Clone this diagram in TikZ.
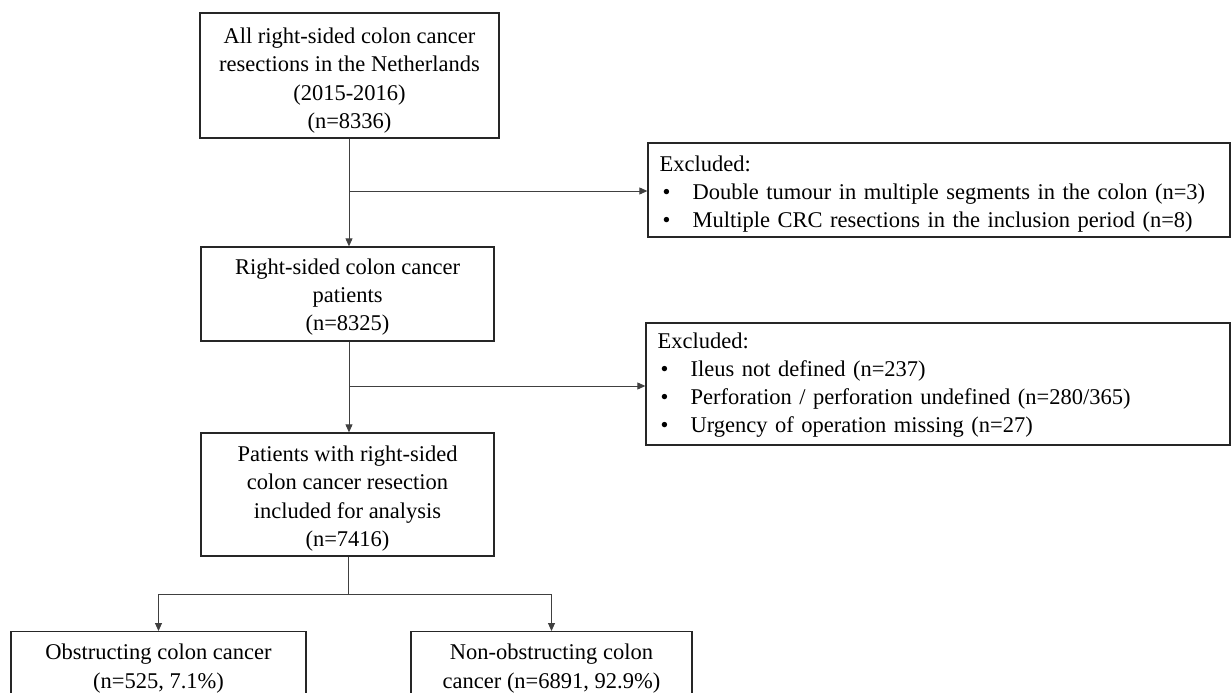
\documentclass[tikz,border=0pt]{standalone}
\usepackage{fontspec}
\setmainfont{Liberation Serif}
\usetikzlibrary{arrows.meta}
\tikzset{
  boxframe/.style={draw=black!85, line width=1.3pt, inner sep=0pt},
  boxtext/.style={align=center, inner sep=0pt, font=\fontsize{22.5}{28.3}\selectfont},
  flowbox/.style={draw=black!85, line width=1.3pt, align=center, inner sep=0pt,
    font=\fontsize{22.5}{28.3}\selectfont},
  excltext/.style={align=left, inner sep=0pt, text width=#1,
    font=\fontsize{22.5}{27.8}\selectfont},
  conn/.style={draw=black!75, line width=0.9pt},
  arr/.style={conn, -{Triangle[length=8pt,width=7pt]}}
}
\newcommand{\bul}{\makebox[33pt][l]{\hspace{3pt}•}}
\begin{document}
\begin{tikzpicture}[x=1pt,y=-1pt]
\useasboundingbox (0,0) rectangle (1232,693);
\clip (0,0) rectangle (1232,693);

\node[boxframe, minimum width=299pt, minimum height=125pt] (b1) at (349.5,75.5) {};
\node[boxtext] (b1t) at ([yshift=-5pt]b1.center)
  {All right-sided colon cancer\\resections in the Netherlands\\(2015-2016)\\(n=8336)};
\node[boxframe, minimum width=293pt, minimum height=94pt] (b2) at (347.5,294) {};
\node[boxtext] (b2t) at ([yshift=-3pt]b2.center)
  {Right-sided colon cancer\\patients\\(n=8325)};
\node[boxframe, minimum width=293pt, minimum height=123pt] (b3) at (347.5,494.5) {};
\node[boxtext] (b3t) at ([yshift=-4pt]b3.center)
  {Patients with right-sided\\colon cancer resection\\included for analysis\\(n=7416)};

\node[boxframe, minimum width=582pt, minimum height=94pt] (e1) at (939,190) {};
\node[excltext=558pt, anchor=west] (e1t) at ([xshift=12pt,yshift=-4pt]e1.west)
  {Excluded:\\
   \bul Double tumour in multiple segments in the colon (n=3)\\
   \bul Multiple CRC resections in the inclusion period (n=8)};
\node[boxframe, minimum width=584pt, minimum height=122pt] (e2) at (938,384) {};
\node[excltext=560pt, anchor=west] (e2t) at ([xshift=12pt,yshift=-1pt]e2.west)
  {Excluded:\\
   \bul Ileus not defined (n=237)\\
   \bul Perforation / perforation undefined (n=280/365)\\
   \bul Urgency of operation missing (n=27)};

\node[flowbox, anchor=north, minimum width=295pt, minimum height=74pt] (o1) at (158.5,631)
  {Obstructing colon cancer\\(n=525, 7.1\%)};
\node[flowbox, anchor=north, minimum width=281pt, minimum height=74pt] (o2) at (551.5,631)
  {Non-obstructing colon\\cancer (n=6891, 92.9\%)};

\coordinate (j1) at (349,191);
\coordinate (j2) at (349,386);
\coordinate (j3) at (348,594);

\draw[arr] (b1.south -| j1) -- (b2.north -| j1);
\draw[arr] (j1) -- (e1.west |- j1);
\draw[arr] (b2.south -| j2) -- (b3.north -| j2);
\draw[arr] (j2) -- (e2.west |- j2);
\draw[conn] (b3.south -| j3) -- (j3);
\draw[arr] (j3) -| (o1.north);
\draw[arr] (j3) -| (o2.north);
\end{tikzpicture}
\end{document}
